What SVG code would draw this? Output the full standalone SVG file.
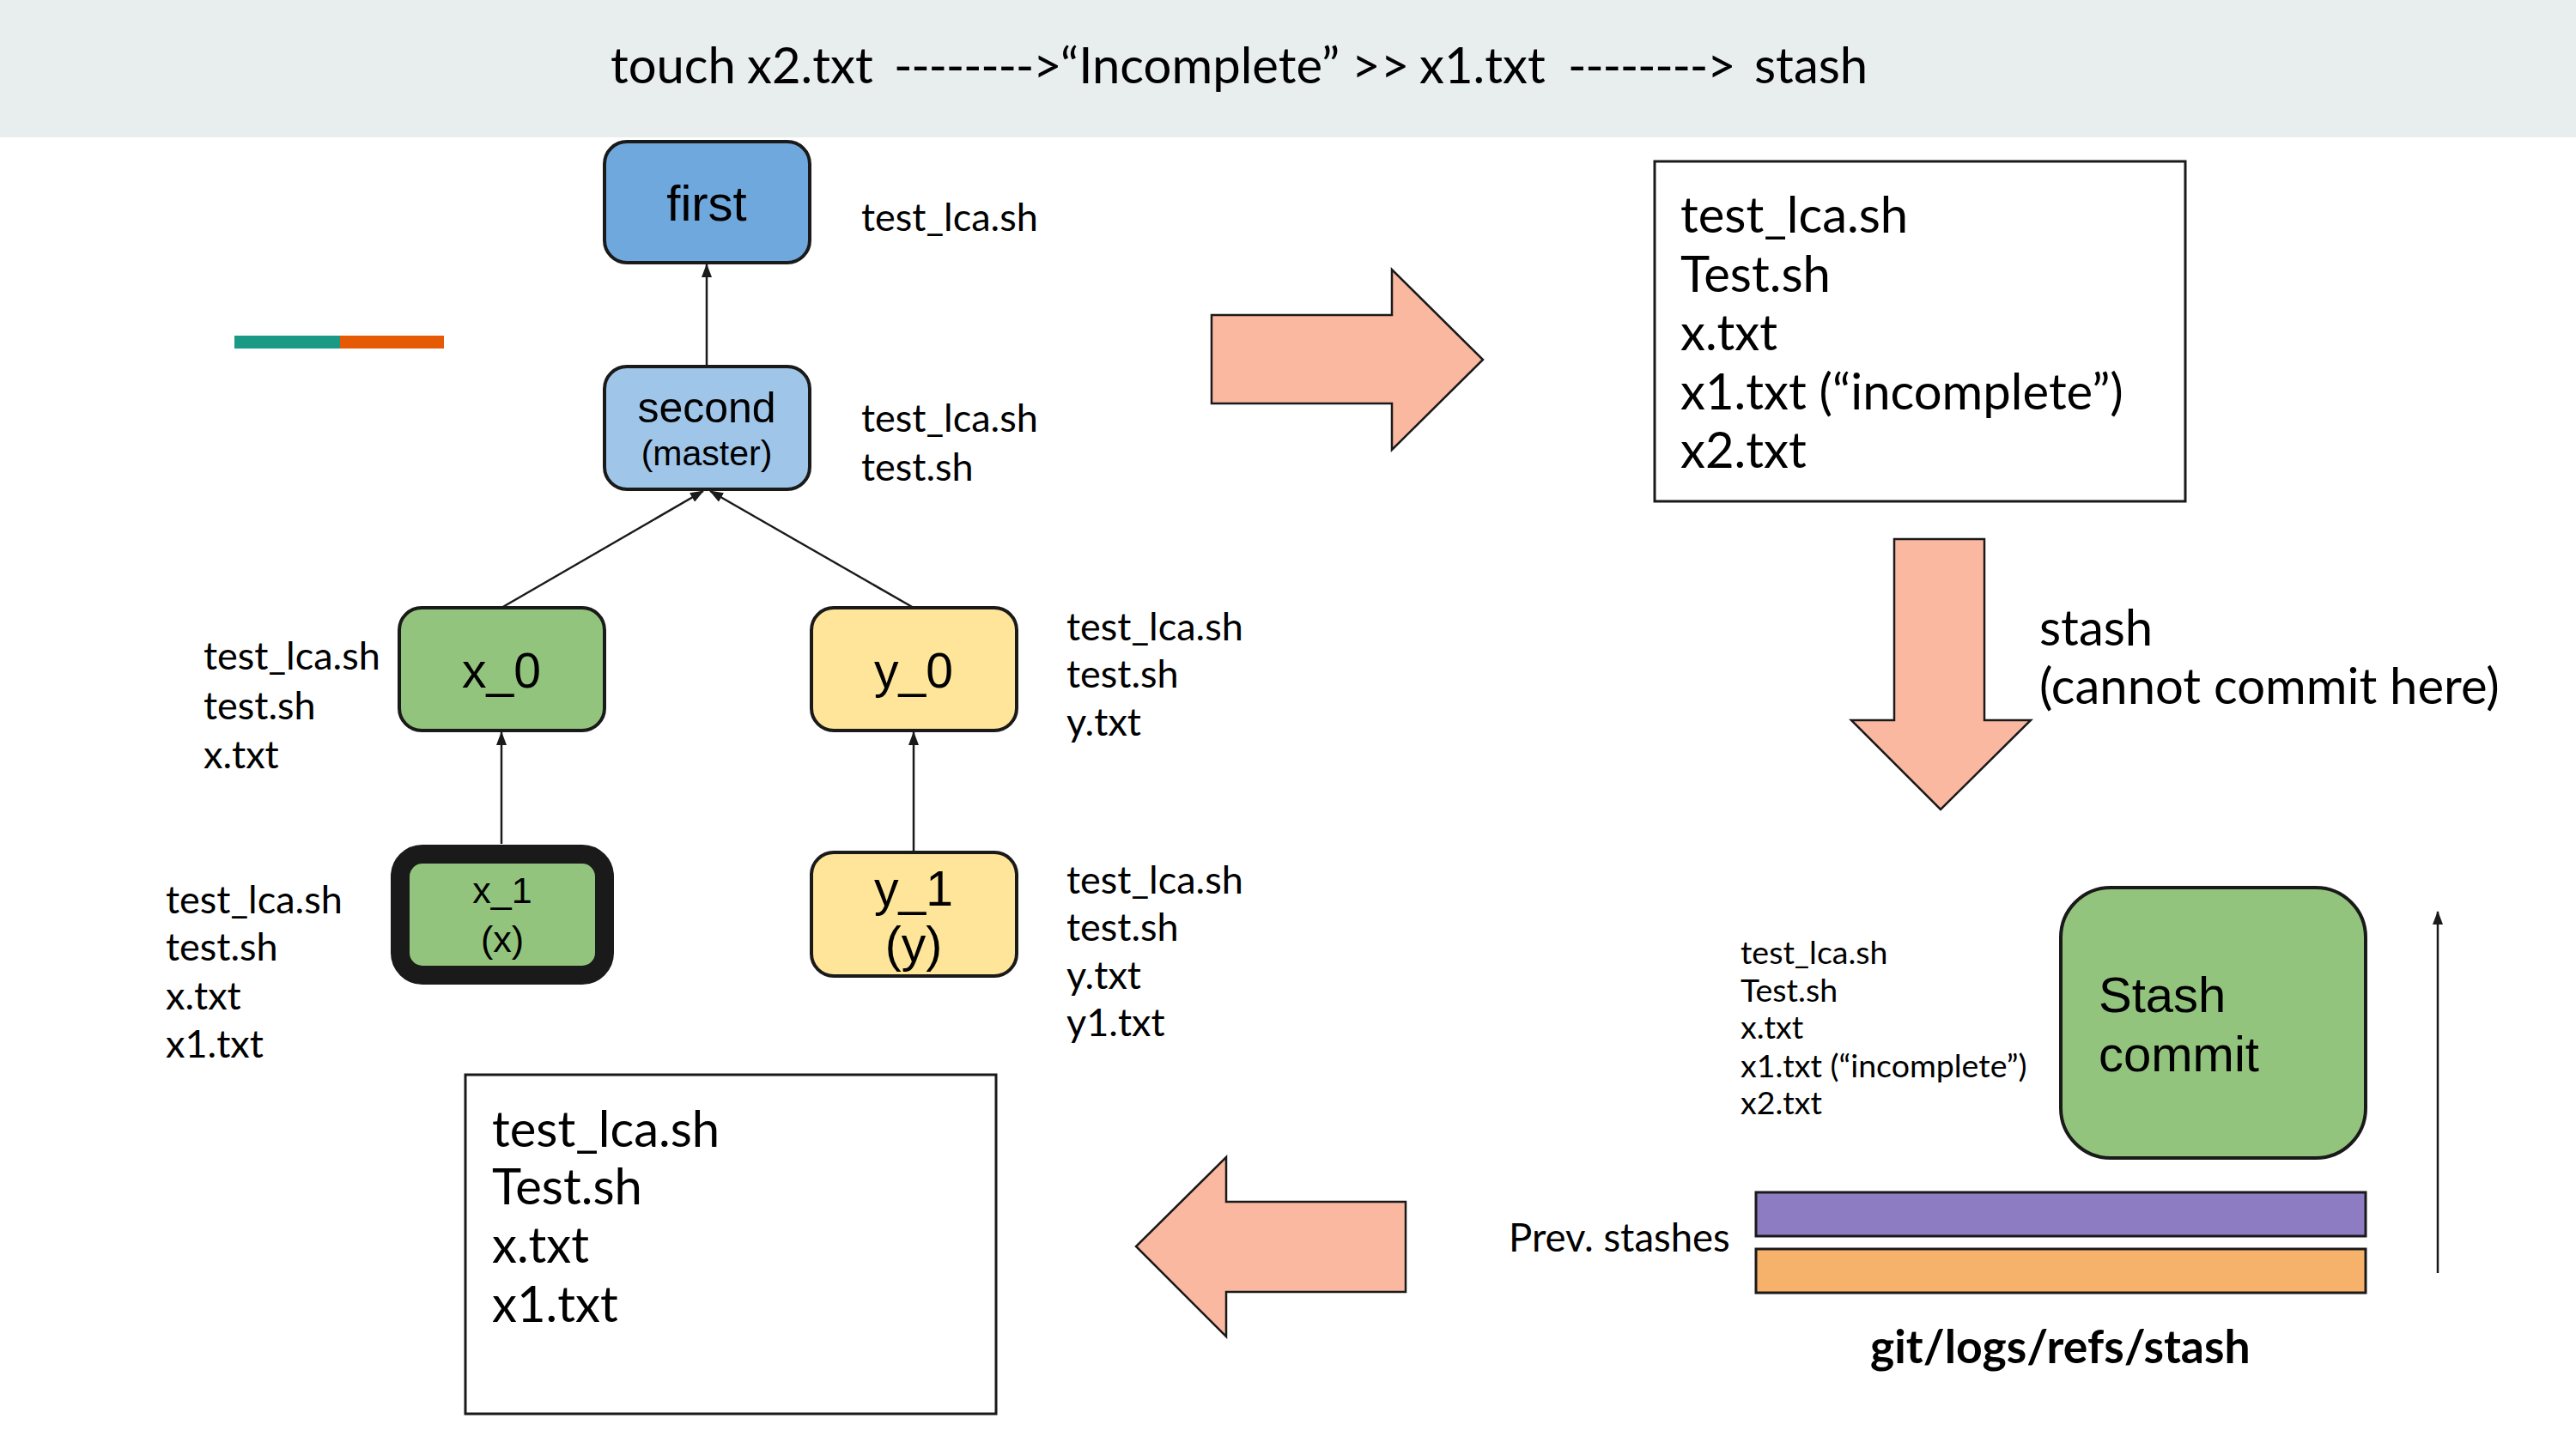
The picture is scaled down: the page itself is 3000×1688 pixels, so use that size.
<svg xmlns="http://www.w3.org/2000/svg" width="3000" height="1688" viewBox="0 0 3000 1688">
<defs>
<style>
.lato{font-family:Lato,"Liberation Sans",sans-serif;fill:#000}
.arial{font-family:"Liberation Sans",Arial,sans-serif;fill:#000;text-anchor:middle}
.node{stroke:#1a1a1a;stroke-width:4}
.conn{stroke:#1a1a1a;stroke-width:2.5;fill:none;marker-end:url(#ah)}
.big{fill:#fbb8a1;stroke:#1a1a1a;stroke-width:2.5}
.box{fill:#fff;stroke:#1a1a1a;stroke-width:3}
.dash{letter-spacing:-1.3px}
</style>
<marker id="ah" markerWidth="16" markerHeight="12" refX="15" refY="6" orient="auto" markerUnits="userSpaceOnUse" viewBox="0 0 16 12">
<path d="M0,0 L16,6 L0,12 z" fill="#1a1a1a"/>
</marker>
</defs>
<rect width="3000" height="1688" fill="#fff"/>
<g id="header">
<rect x="0" y="0" width="3000" height="160" fill="#e8eded"/>
<text class="lato" y="97" font-size="58"><tspan x="711">touch</tspan><tspan x="870">x2.txt</tspan><tspan x="1041" class="dash">--------&gt;</tspan><tspan x="1235">“Incomplete”</tspan><tspan x="1574">&gt;&gt;</tspan><tspan x="1653">x1.txt</tspan><tspan x="1826" class="dash">--------&gt;</tspan><tspan x="2043">stash</tspan></text>
</g>
<g id="legend-bar">
<rect x="273" y="391" width="123" height="15" fill="#1a9985"/>
<rect x="396" y="391" width="121" height="15" fill="#e65a05"/>
</g>
<g id="connectors">
<line class="conn" x1="823" y1="427" x2="823" y2="308"/>
<line class="conn" x1="584" y1="708" x2="819" y2="572"/>
<line class="conn" x1="1064" y1="708" x2="827" y2="572"/>
<line class="conn" x1="584" y1="983" x2="584" y2="853"/>
<line class="conn" x1="1064" y1="993" x2="1064" y2="853"/>
<line class="conn" x1="2839" y1="1483" x2="2839" y2="1062"/>
</g>
<g id="node-first">
<rect class="node" x="704" y="165" width="239" height="141" rx="26" fill="#6fa8dc"/>
<text class="arial" x="823" y="257" font-size="58">first</text>
</g>
<g id="node-second">
<rect class="node" x="704" y="427" width="239" height="143" rx="26" fill="#9fc5e8"/>
<text class="arial" x="823" y="492" font-size="50">second</text>
<text class="arial" x="823" y="542" font-size="41">(master)</text>
</g>
<g id="node-x0">
<rect class="node" x="465" y="708" width="239" height="143" rx="26" fill="#93c47d"/>
<text class="arial" x="584" y="801" font-size="57">x_0</text>
</g>
<g id="node-y0">
<rect class="node" x="945" y="708" width="239" height="143" rx="26" fill="#ffe599"/>
<text class="arial" x="1064" y="801" font-size="57">y_0</text>
</g>
<g id="node-x1">
<rect x="466" y="995" width="238" height="141" rx="26" fill="#93c47d" stroke="#1a1a1a" stroke-width="22"/>
<text class="arial" x="585" y="1052" font-size="43">x_1</text>
<text class="arial" x="585" y="1109" font-size="43">(x)</text>
</g>
<g id="node-y1">
<rect class="node" x="945" y="993" width="239" height="144" rx="26" fill="#ffe599"/>
<text class="arial" x="1064" y="1055" font-size="57">y_1</text>
<text class="arial" x="1064" y="1120" font-size="57">(y)</text>
</g>
<g id="labels">
<text class="lato" x="1003" y="269" font-size="45">test_lca.sh</text>
<text class="lato" x="1003" y="503" font-size="45">test_lca.sh</text>
<text class="lato" x="1003" y="560" font-size="45">test.sh</text>
<text class="lato" x="237" y="780" font-size="45">test_lca.sh</text>
<text class="lato" x="237" y="838" font-size="45">test.sh</text>
<text class="lato" x="237" y="895" font-size="45">x.txt</text>
<text class="lato" x="1242" y="746" font-size="45">test_lca.sh</text>
<text class="lato" x="1242" y="801" font-size="45">test.sh</text>
<text class="lato" x="1242" y="857" font-size="45">y.txt</text>
<text class="lato" x="193" y="1064" font-size="45">test_lca.sh</text>
<text class="lato" x="193" y="1119" font-size="45">test.sh</text>
<text class="lato" x="193" y="1176" font-size="45">x.txt</text>
<text class="lato" x="193" y="1232" font-size="45">x1.txt</text>
<text class="lato" x="1242" y="1041" font-size="45">test_lca.sh</text>
<text class="lato" x="1242" y="1096" font-size="45">test.sh</text>
<text class="lato" x="1242" y="1152" font-size="45">y.txt</text>
<text class="lato" x="1242" y="1207" font-size="45">y1.txt</text>
</g>
<g id="arrow-right">
<polygon class="big" points="1411,367 1621,367 1621,314 1727,419 1621,524 1621,470 1411,470"/>
</g>
<g id="box-working">
<rect class="box" x="1927" y="188" width="618" height="396"/>
<text class="lato" x="1957" y="271" font-size="58">test_lca.sh</text>
<text class="lato" x="1957" y="340" font-size="58">Test.sh</text>
<text class="lato" x="1957" y="408" font-size="58">x.txt</text>
<text class="lato" x="1957" y="477" font-size="58">x1.txt (“incomplete”)</text>
<text class="lato" x="1957" y="545" font-size="58">x2.txt</text>
</g>
<g id="arrow-down">
<polygon class="big" points="2206,628 2311,628 2311,839 2365,839 2260,943 2156,839 2206,839"/>
<text class="lato" x="2375" y="752" font-size="58">stash</text>
<text class="lato" x="2375" y="820" font-size="58">(cannot commit here)</text>
</g>
<g id="stash-commit">
<rect class="node" x="2400" y="1034" width="355" height="315" rx="58" fill="#93c47d"/>
<text class="arial" x="2444" y="1179" font-size="58" style="text-anchor:start">Stash</text>
<text class="arial" x="2444" y="1248" font-size="58" style="text-anchor:start">commit</text>
</g>
<g id="stash-files">
<text class="lato" x="2027" y="1123" font-size="37.5">test_lca.sh</text>
<text class="lato" x="2027" y="1167" font-size="37.5">Test.sh</text>
<text class="lato" x="2027" y="1210" font-size="37.5">x.txt</text>
<text class="lato" x="2027" y="1255" font-size="37.5">x1.txt (“incomplete”)</text>
<text class="lato" x="2027" y="1298" font-size="37.5">x2.txt</text>
</g>
<g id="prev-stashes">
<rect x="2045" y="1389" width="710" height="51" fill="#8e7cc3" stroke="#1a1a1a" stroke-width="3"/>
<rect x="2045" y="1455" width="710" height="51" fill="#f6b26b" stroke="#1a1a1a" stroke-width="3"/>
<text class="lato" x="1757" y="1458" font-size="45.5">Prev. stashes</text>
<text class="lato" x="2178" y="1588" font-size="53.5" font-weight="bold">git/logs/refs/stash</text>
</g>
<g id="arrow-left">
<polygon class="big" points="1637,1400 1428,1400 1428,1348 1323,1452 1428,1557 1428,1505 1637,1505"/>
</g>
<g id="box-restored">
<rect class="box" x="542" y="1252" width="618" height="395"/>
<text class="lato" x="573" y="1336" font-size="58">test_lca.sh</text>
<text class="lato" x="573" y="1403" font-size="58">Test.sh</text>
<text class="lato" x="573" y="1471" font-size="58">x.txt</text>
<text class="lato" x="573" y="1540" font-size="58">x1.txt</text>
</g>
</svg>
